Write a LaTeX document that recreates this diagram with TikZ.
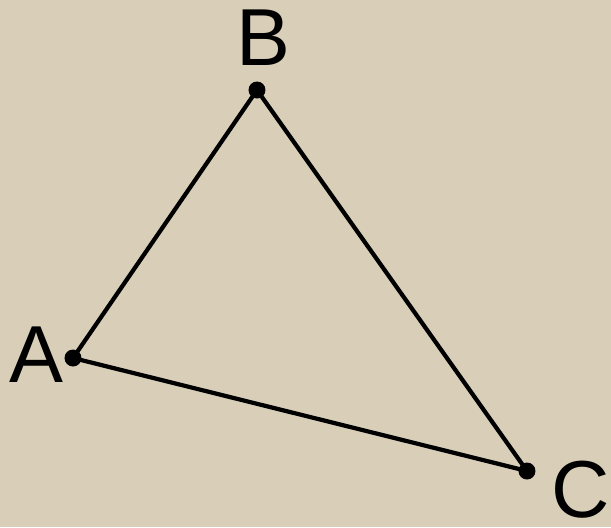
\documentclass[tikz,border=0pt]{standalone}
\usepackage{fontspec}
\setmainfont{Liberation Sans}
\usepackage{xcolor}
\definecolor{paper}{RGB}{217,207,185}
\begin{document}
\begin{tikzpicture}[
      dot/.style={circle,fill=black,inner sep=0pt,minimum size=0.17cm},
      lbl/.style={font=\fontsize{23}{27}\selectfont,inner sep=0pt}]
      \fill[paper] (0,0) rectangle (6.11,5.27);
      \useasboundingbox (0,0) rectangle (6.11,5.27);
      \node[dot] (A) at (0.73,1.69) {};
      \node[dot] (B) at (2.57,4.37) {};
      \node[dot] (C) at (5.27,0.56) {};
      \draw[line width=1.2pt] (A.center) -- (B.center) -- (C.center) -- cycle;
      \node[lbl] (lA) at (0.36,1.72) {A};
      \node[lbl] (lB) at (2.63,4.89) {B};
      \node[lbl] (lC) at (5.81,0.37) {C};
    \end{tikzpicture}
\end{document}
